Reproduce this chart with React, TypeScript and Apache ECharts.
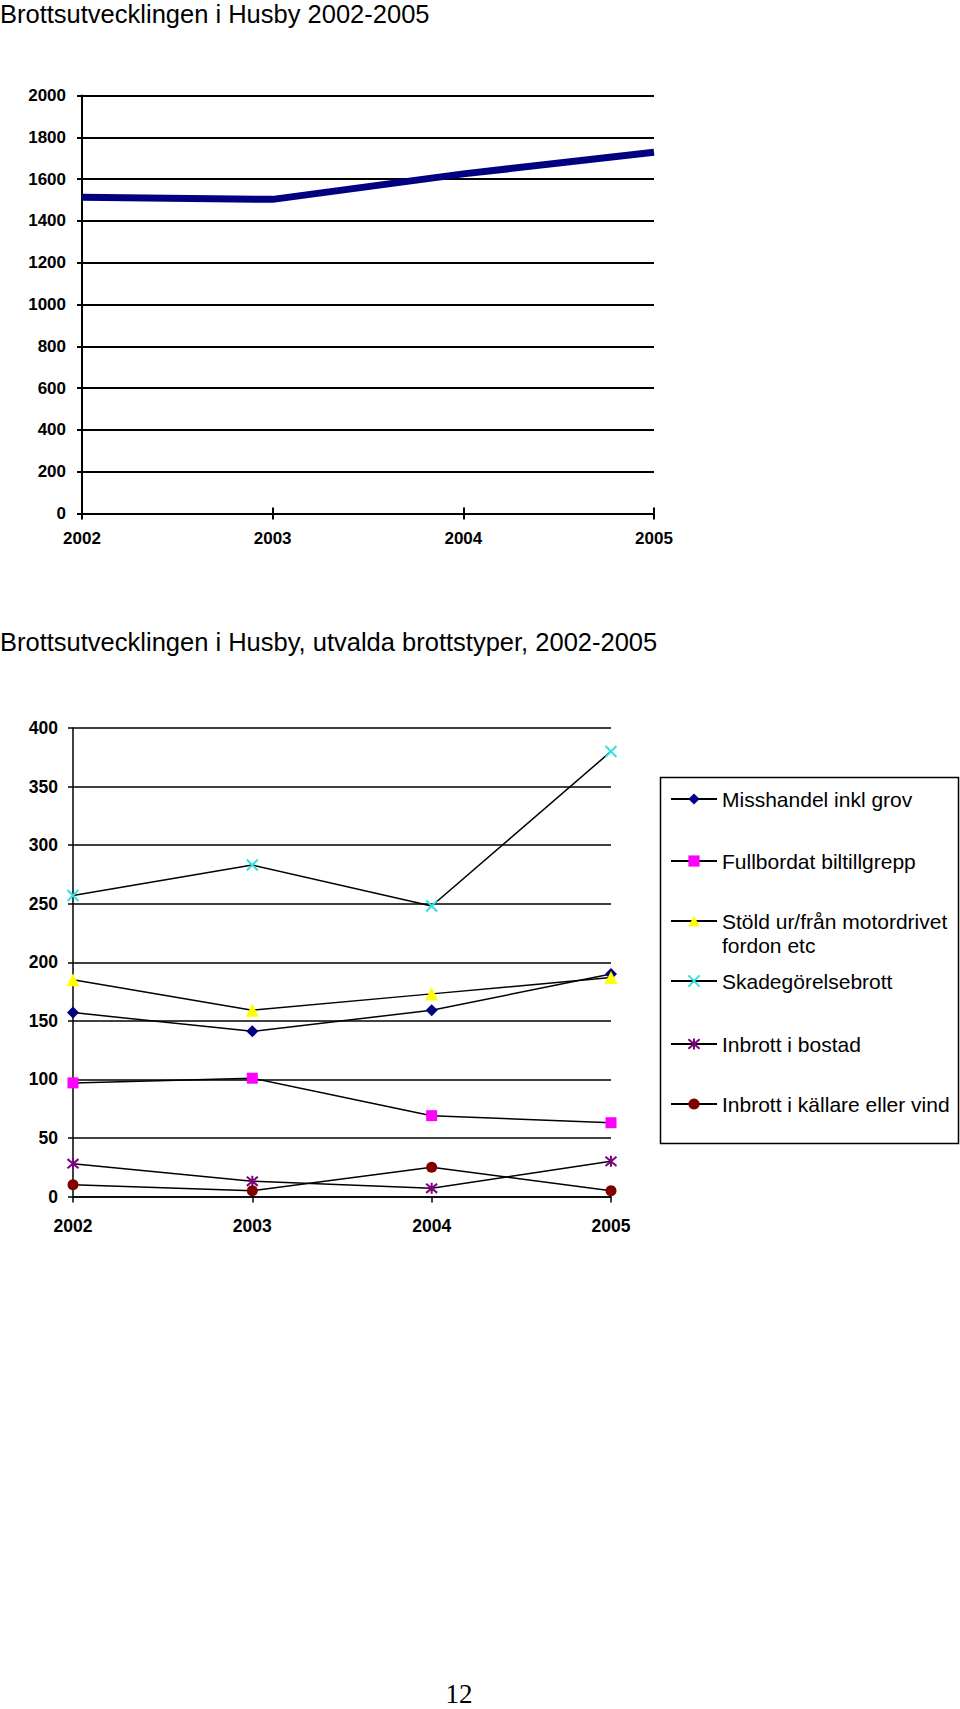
import React, { useEffect, useRef } from "react";
import * as echarts from "echarts";

const years = ["2002", "2003", "2004", "2005"];
const totalValues = [1513, 1503, 1625, 1728];

const misshandel = [157, 141, 159, 190];
const biltillgrepp = [97, 101, 69, 63];
const stold = [185, 159, 173, 187];
const skadegorelse = [257, 283, 248, 380];
const inbrottBostad = [28, 13, 7, 30];
const inbrottKallare = [10, 5, 25, 5];

const title1 = "Brottsutvecklingen i Husby 2002-2005";
const title2 = "Brottsutvecklingen i Husby, utvalda brottstyper, 2002-2005";
const pageNumber = "12";

const seriesNames = [
  "Misshandel inkl grov",
  "Fullbordat biltillgrepp",
  "Stöld ur/från motordrivet fordon etc",
  "Skadegörelsebrott",
  "Inbrott i bostad",
  "Inbrott i källare eller vind",
];

const FONT = "'Liberation Sans', Arial, Helvetica, sans-serif";
const CROSS = "path://M0,0L10,10M10,0L0,10";
const ASTERISK = "path://M0,0L10,10M10,0L0,10M5,-1L5,11";

export default function App() {
  const ref = useRef<HTMLDivElement>(null);

  useEffect(() => {
    if (!ref.current) return;
    const chart = echarts.init(ref.current, null, { renderer: "svg" });

    const labelStyle = (size: number, margin: number) => ({
      color: "#000",
      fontFamily: FONT,
      fontSize: size,
      fontWeight: "bold" as const,
      margin,
      formatter: (v: any) => String(v),
    });

    const legendRows = [799, 861, 921, 981, 1044, 1104];

    const legends = seriesNames.map((name, i) => ({
      data: [name],
      orient: "vertical" as const,
      left: 670,
      top: i === 2 ? legendRows[i] - 36 : legendRows[i] - 12,
      padding: 0,
      itemWidth: 46,
      itemHeight: 14,
      itemGap: 5,
      selectedMode: false,
      textStyle: {
        color: "#000",
        fontFamily: FONT,
        fontSize: 21,
        lineHeight: 24,
      },
      formatter:
        i === 2
          ? () => "\n" + "Stöld ur/från motordrivet" + "\n" + "fordon etc"
          : undefined,
    }));

    const lineSeries = (
      name: string,
      data: number[],
      symbol: string,
      size: number,
      color: string,
      stroked: boolean
    ) => ({
      name,
      type: "line" as const,
      xAxisIndex: 2,
      yAxisIndex: 1,
      data,
      symbol,
      symbolSize: size,
      showSymbol: true,
      lineStyle: { color: "#000", width: 1.5 },
      itemStyle: stroked
        ? { color, borderColor: color, borderWidth: 2 }
        : { color, borderWidth: 0 },
      emphasis: { disabled: true },
    });

    const option: any = {
      animation: false,
      backgroundColor: "#fff",
      title: [
        {
          text: title1,
          left: 0,
          top: 1,
          padding: 0,
          textStyle: { fontFamily: FONT, fontSize: 25.5, fontWeight: "normal", color: "#000" },
        },
        {
          text: title2,
          left: 0,
          top: 629,
          padding: 0,
          textStyle: { fontFamily: FONT, fontSize: 25.5, fontWeight: "normal", color: "#000" },
        },
      ],
      grid: [
        { left: 82, top: 95.5, width: 572, height: 418, outerBoundsMode: "none" },
        { left: 73, top: 728, width: 538, height: 468.5, outerBoundsMode: "none" },
      ],
      xAxis: [
        {
          type: "category",
          gridIndex: 0,
          data: years,
          boundaryGap: false,
          axisLine: { lineStyle: { color: "#000", width: 2 } },
          axisTick: { length: 6, lineStyle: { color: "#000", width: 2 } },
          axisLabel: labelStyle(17, 16),
          splitLine: { show: false },
        },
        {
          type: "category",
          gridIndex: 0,
          data: years,
          boundaryGap: false,
          position: "bottom",
          axisLine: { show: false },
          axisTick: { inside: true, length: 6, lineStyle: { color: "#000", width: 2 } },
          axisLabel: { show: false },
          splitLine: { show: false },
        },
        {
          type: "category",
          gridIndex: 1,
          data: years,
          boundaryGap: false,
          axisLine: { lineStyle: { color: "#000", width: 1.5 } },
          axisTick: { length: 6, lineStyle: { color: "#000", width: 1.5 } },
          axisLabel: labelStyle(17.5, 20),
          splitLine: { show: false },
        },
      ],
      yAxis: [
        {
          type: "value",
          gridIndex: 0,
          min: 0,
          max: 2000,
          interval: 200,
          axisLine: { show: true, lineStyle: { color: "#000", width: 2 } },
          axisTick: { show: true, length: 5, lineStyle: { color: "#000", width: 2 } },
          splitLine: { show: true, lineStyle: { color: "#000", width: 2 } },
          axisLabel: labelStyle(17, 16),
        },
        {
          type: "value",
          gridIndex: 1,
          min: 0,
          max: 400,
          interval: 50,
          axisLine: { show: true, lineStyle: { color: "#000", width: 1.5 } },
          axisTick: { show: true, length: 5, lineStyle: { color: "#000", width: 1.5 } },
          splitLine: { show: true, lineStyle: { color: "#000", width: 1.5 } },
          axisLabel: labelStyle(17.5, 15),
        },
      ],
      legend: legends,
      series: [
        {
          name: "Totalt",
          type: "line",
          xAxisIndex: 0,
          yAxisIndex: 0,
          data: totalValues,
          symbol: "none",
          lineStyle: { color: "#000080", width: 7 },
          emphasis: { disabled: true },
        },
        lineSeries(seriesNames[0], misshandel, "diamond", 12, "#000080", false),
        lineSeries(seriesNames[1], biltillgrepp, "rect", 11, "#FF00FF", false),
        lineSeries(seriesNames[2], stold, "triangle", 13, "#FFFF00", false),
        lineSeries(seriesNames[3], skadegorelse, CROSS, 11, "#33E0E0", true),
        lineSeries(seriesNames[4], inbrottBostad, ASTERISK, 11, "#800080", true),
        lineSeries(seriesNames[5], inbrottKallare, "circle", 11, "#800000", false),
      ],
      graphic: [
        {
          type: "rect",
          shape: { x: 660.5, y: 777.5, width: 298, height: 366 },
          style: { fill: "none", stroke: "#000", lineWidth: 1.5 },
          silent: true,
        },
        {
          type: "text",
          x: 459,
          y: 1707,
          style: {
            text: pageNumber,
            fontFamily: "'Liberation Serif', 'Times New Roman', serif",
            fontSize: 27,
            fill: "#000",
            align: "center",
            verticalAlign: "bottom",
          },
          silent: true,
        },
      ],
    };

    chart.setOption(option);
    return () => {
      chart.dispose();
    };
  }, []);

  return (
    <div
      ref={ref}
      style={{ position: "absolute", left: 0, top: 0, width: 960, height: 1709 }}
    />
  );
}
